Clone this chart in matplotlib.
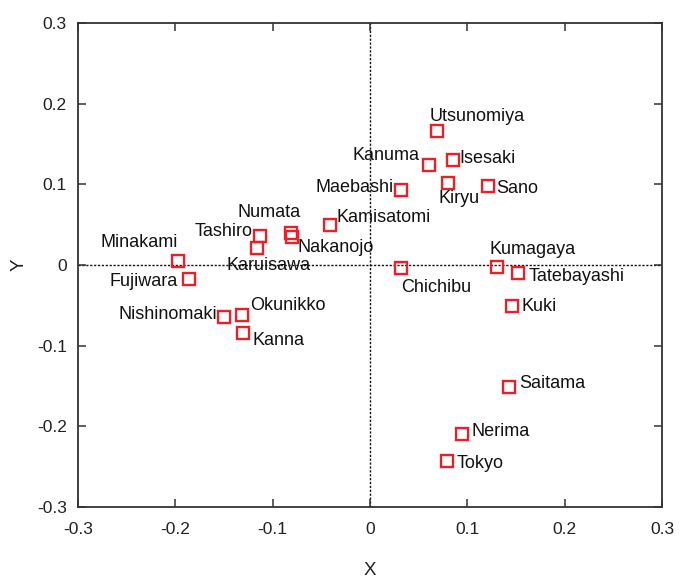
import matplotlib
matplotlib.use("Agg")
import matplotlib.pyplot as plt
from matplotlib.ticker import FixedLocator, FixedFormatter

plt.rcParams['font.family'] = ['Liberation Sans', 'DejaVu Sans']

# Place names and their coordinates
names = ["Utsunomiya", "Kanuma", "Isesaki", "Maebashi", "Kiryu", "Sano",
         "Kamisatomi", "Nakanojo", "Numata", "Tashiro", "Karuisawa",
         "Minakami", "Fujiwara", "Nishinomaki", "Okunikko", "Kanna",
         "Chichibu", "Kumagaya", "Tatebayashi", "Kuki", "Saitama",
         "Nerima", "Tokyo"]
x_vals = [0.069, 0.061, 0.085, 0.032, 0.080, 0.121,
          -0.041, -0.080, -0.081, -0.1135, -0.1156,
          -0.197, -0.186, -0.1497, -0.131, -0.1306,
          0.032, 0.130, 0.1525, 0.146, 0.1426,
          0.0947, 0.0793]
y_vals = [0.166, 0.124, 0.130, 0.0925, 0.102, 0.098,
          0.049, 0.035, 0.040, 0.036, 0.021,
          0.005, -0.018, -0.0646, -0.062, -0.0846,
          -0.004, -0.002, -0.0096, -0.051, -0.151,
          -0.210, -0.2425]

# Label offsets (pixels) and horizontal alignment for each place
label_dx = [-8, -10, 7, -8, -9, 8,
            6, 5, -22, -7, -31,
            0, -11, -7, 8, 10,
            0, -7, 10, 9, 10,
            9, 9]
label_dy = [15, 9, 2, 3, -16, -3,
            8, -11, 20, 4, -17,
            18, -2, 3, 9, -7,
            -19, 17, -4, 0, 3,
            3, -3]
label_ha = ["left", "right", "left", "right", "left", "left",
            "left", "left", "center", "right", "left",
            "right", "right", "right", "left", "left",
            "left", "left", "left", "left", "left",
            "left", "left"]

ticks = [-0.3, -0.2, -0.1, 0, 0.1, 0.2, 0.3]
tick_labels = ["-0.3", "-0.2", "-0.1", "0", "0.1", "0.2", "0.3"]

fig = plt.figure(figsize=(6.8, 5.79), dpi=100)
ax = fig.add_axes([0.1147, 0.1244, 0.8588, 0.8359])

ax.axhline(0, color="#111111", lw=1.0, ls=(0, (1.6, 1.2)), zorder=1)
ax.axvline(0, color="#111111", lw=1.0, ls=(0, (1.6, 1.2)), zorder=1)

ax.plot(x_vals, y_vals, ls="none", marker="s", ms=9.2, mfc="none",
        mec="#e8202a", mew=1.7, zorder=3)

for n, xv, yv, dx, dy, ha in zip(names, x_vals, y_vals, label_dx, label_dy, label_ha):
    ax.annotate(n, (xv, yv), xytext=(dx, dy), textcoords="offset pixels",
                ha=ha, va="center", fontsize=13, color="#111111", zorder=4)

ax.set_xlim(-0.3, 0.3)
ax.set_ylim(-0.3, 0.3)
ax.xaxis.set_major_locator(FixedLocator(ticks))
ax.xaxis.set_major_formatter(FixedFormatter(tick_labels))
ax.yaxis.set_major_locator(FixedLocator(ticks))
ax.yaxis.set_major_formatter(FixedFormatter(tick_labels))
ax.tick_params(direction="in", top=True, right=True, length=6, width=1.1,
               color="#333333", labelsize=12.5, labelcolor="#222222")
ax.tick_params(axis="x", pad=11)
ax.tick_params(axis="y", pad=8)
for s in ax.spines.values():
    s.set_color("#333333")
    s.set_linewidth(1.3)

ax.set_xlabel("X", fontsize=13.5, color="#222222", labelpad=18)
ax.set_ylabel("Y", fontsize=13.5, color="#222222", labelpad=7)

fig.savefig("out.png", dpi=100)
